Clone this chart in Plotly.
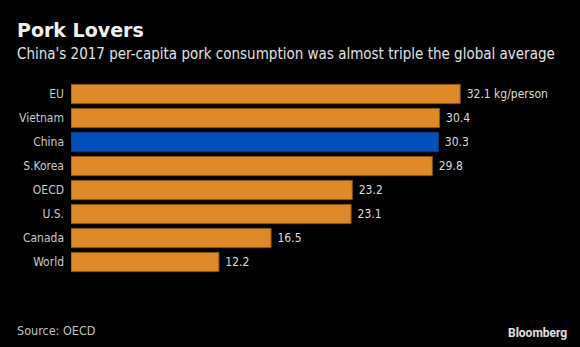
import plotly.graph_objects as go

categories = ["EU", "Vietnam", "China", "S.Korea", "OECD", "U.S.", "Canada", "World"]
values = [32.1, 30.4, 30.3, 29.8, 23.2, 23.1, 16.5, 12.2]
value_labels = ["32.1 kg/person", "30.4", "30.3", "29.8", "23.2", "23.1", "16.5", "12.2"]

ORANGE = "#DE8A28"
BLUE = "#0051BA"
colors = [BLUE if c == "China" else ORANGE for c in categories]
lines = ["#0A3A80" if c == "China" else "#8A5414" for c in categories]

FONT = "Liberation Sans Narrow, DejaVu Sans Condensed, Roboto, sans-serif"
PW = 485
PH = 192

def px(x):
    return (x - 71) / PW

def py(y):
    return (274 - y) / PH

fig = go.Figure(go.Bar(
    y=categories, x=values, orientation="h",
    marker=dict(color=colors, line=dict(color=lines, width=1)),
    text=["\u00a0" + t for t in value_labels], textposition="outside", cliponaxis=False,
    textfont=dict(color="#dcdcdc", size=12, family=FONT),
))

fig.update_layout(
    width=580, height=347,
    paper_bgcolor="black", plot_bgcolor="black",
    margin=dict(l=71, r=24, t=82, b=73),
    bargap=0.2,
    showlegend=False,
    font=dict(family=FONT, color="#dcdcdc", size=12),
    xaxis=dict(range=[0, 40], visible=False, fixedrange=True),
    yaxis=dict(autorange="reversed", showgrid=False, zeroline=False, showline=False,
               ticks="", tickfont=dict(color="#c8c8c8", size=12, family=FONT),
               ticklabelstandoff=6),
)

fig.add_annotation(text="<b>Pork Lovers</b>", xref="paper", yref="paper",
                   x=px(15), y=py(43), xanchor="left", yanchor="bottom",
                   showarrow=False, font=dict(size=19, color="#f0f0f0", family="DejaVu Sans, sans-serif"))
fig.add_annotation(text="China's 2017 per-capita pork consumption was almost triple the global average",
                   xref="paper", yref="paper",
                   x=px(15), y=py(65), xanchor="left", yanchor="bottom",
                   showarrow=False, font=dict(size=15, color="#e0e0e0", family=FONT))
fig.add_annotation(text="Source: OECD", xref="paper", yref="paper",
                   x=px(15), y=py(340), xanchor="left", yanchor="bottom",
                   showarrow=False, font=dict(size=12.5, color="#c0c0c0", family=FONT))
fig.add_annotation(text="<b>Bloomberg</b>", xref="paper", yref="paper",
                   x=px(569), y=py(342), xanchor="right", yanchor="bottom",
                   showarrow=False, font=dict(size=12, color="#e0e0e0", family="Roboto, sans-serif"))

fig.write_html("out.html")
